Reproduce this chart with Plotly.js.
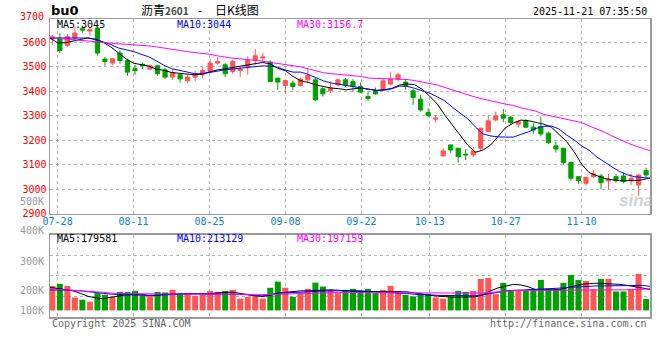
<!DOCTYPE html>
<html><head><meta charset="utf-8">
<script src="https://cdn.plot.ly/plotly-3.0.1.min.js"></script>
<style>html,body{margin:0;padding:0;background:#fff}#chart{width:660px;height:360px}</style>
</head><body><div id="chart"></div>
<script>
// ---- tick labels (trading-day index of each labelled date) ----
const tickLabels = ['07-28','08-11','08-25','09-08','09-22','10-13','10-27','11-10'];
const tickIndex  = [1, 11, 21, 31, 41, 50, 60, 70];

// ---- daily OHLC (07-25 .. 11-21) ----
const open = [3613.4,3616.2,3586.0,3616.2,3654.2,3644.8,3657.1,3530.4,3514.0,3554.9,
3524.7,3490.7,3509.1,3489.5,3503.0,3486.6,3456.8,3466.2,3441.7,3456.8,
3466.2,3479.7,3514.0,3507.1,3479.7,3483.8,3500.1,3524.7,3534.5,3518.1,
3452.7,3422.5,3432.3,3422.5,3445.8,3445.8,3409.0,3402.0,3425.3,3445.8,
3438.8,3418.4,3377.5,3400.8,3407.7,3428.2,3448.6,3436.4,3400.8,3366.9,
3312.1,3285.1,3135.1,3180.0,3166.5,3142.0,3139.2,3166.5,3234.4,3282.2,
3302.7,3293.3,3264.7,3279.4,3252.4,3255.7,3227.9,3176.0,3166.5,3107.7,
3050.4,3023.5,3050.4,3053.3,3032.9,3050.4,3053.3,3036.9,3016.5,3075.0];
const close = [3621.5,3565.5,3621.5,3636.7,3648.9,3650.2,3554.9,3520.6,3531.6,3524.7,
3477.2,3483.8,3503.0,3503.0,3470.3,3456.8,3475.6,3449.8,3456.8,3468.2,
3483.8,3514.0,3520.6,3470.3,3520.6,3489.5,3524.7,3543.9,3538.6,3438.8,
3436.4,3442.5,3418.4,3448.6,3463.3,3364.0,3388.5,3411.8,3445.8,3425.3,
3418.4,3395.5,3369.3,3388.5,3441.7,3448.6,3466.2,3421.2,3373.4,3323.1,
3299.8,3289.2,3155.5,3159.6,3132.2,3139.2,3155.5,3248.3,3278.2,3298.6,
3289.2,3271.2,3275.3,3252.4,3241.4,3225.0,3189.4,3163.7,3107.7,3043.9,
3034.1,3048.0,3061.5,3025.9,3039.8,3034.1,3030.0,3043.9,3057.4,3057.4];
const high = [3629.7,3636.7,3633.8,3660.4,3666.5,3661.2,3658.3,3538.6,3533.6,3565.5,
3531.6,3507.1,3516.5,3507.1,3507.1,3493.6,3489.5,3470.3,3466.2,3482.5,
3498.9,3529.6,3538.6,3514.0,3527.5,3500.1,3541.0,3571.3,3554.9,3524.7,
3453.9,3443.7,3442.9,3455.2,3489.5,3455.2,3418.4,3438.8,3449.8,3452.7,
3448.6,3434.7,3398.0,3414.3,3448.6,3475.6,3475.6,3448.6,3407.7,3384.4,
3330.1,3302.7,3166.5,3181.3,3167.8,3162.5,3170.6,3249.5,3298.6,3316.2,
3327.2,3298.6,3278.2,3285.1,3268.7,3295.7,3234.4,3193.5,3167.8,3111.8,
3052.1,3049.2,3077.8,3061.5,3061.5,3061.5,3066.8,3061.5,3061.5,3087.2];
const low = [3586.8,3554.9,3580.7,3609.3,3637.9,3625.6,3545.1,3503.0,3505.9,3511.2,
3462.1,3466.2,3489.5,3484.6,3462.1,3448.6,3445.8,3434.7,3432.3,3438.8,
3451.9,3473.1,3507.1,3456.8,3470.3,3456.8,3466.2,3507.1,3520.6,3437.6,
3404.9,3388.5,3404.9,3418.4,3436.4,3359.9,3377.5,3391.4,3418.4,3415.9,
3398.0,3391.4,3359.9,3384.4,3404.9,3425.3,3438.8,3404.9,3343.6,3316.2,
3293.3,3271.2,3133.8,3146.1,3107.7,3118.7,3129.8,3156.7,3232.0,3275.3,
3272.8,3261.8,3250.8,3248.3,3225.0,3214.8,3182.9,3148.6,3098.3,3034.1,
3019.4,3013.7,3045.1,2998.9,2998.9,3025.9,3023.5,3016.5,2972.8,3048.0];

// ---- price moving averages as drawn ----
const ma5 = [3616.2,3596.6,3597.0,3604.4,3608.9,3617.1,3610.1,3599.1,3579.9,3556.1,
3531.6,3513.6,3506.3,3501.8,3489.5,3484.6,3475.6,3472.3,3468.2,3466.2,
3469.1,3477.2,3485.8,3490.7,3496.0,3499.3,3504.2,3512.0,3516.5,3511.2,
3492.8,3482.6,3459.7,3441.7,3435.1,3424.9,3417.6,3412.2,3409.8,3404.9,
3409.4,3411.8,3407.3,3403.2,3405.3,3410.6,3424.1,3429.0,3426.1,3406.9,
3378.7,3346.8,3301.0,3259.4,3218.1,3179.2,3149.8,3158.8,3179.2,3216.0,
3250.8,3269.2,3281.4,3279.0,3272.8,3264.7,3252.8,3225.0,3194.4,3152.2,
3101.5,3066.4,3053.3,3043.1,3037.8,3034.1,3034.1,3034.1,3037.8,3045.0];
const ma10 = [3616.2,3616.2,3616.2,3616.2,3616.2,3616.2,3611.3,3601.1,3589.7,3575.8,
3568.4,3561.1,3550.0,3539.8,3523.4,3505.1,3491.5,3484.6,3476.4,3471.1,
3470.3,3474.4,3480.9,3486.6,3489.5,3492.4,3495.2,3500.1,3502.6,3501.4,
3496.5,3485.4,3477.2,3477.2,3467.8,3454.8,3441.3,3433.1,3427.8,3422.4,
3417.2,3412.2,3404.9,3402.0,3403.2,3409.0,3420.0,3419.2,3411.0,3402.0,
3391.4,3376.3,3359.1,3333.3,3310.9,3286.3,3253.6,3225.0,3216.8,3212.7,
3211.9,3211.9,3223.0,3233.2,3247.5,3255.7,3256.9,3245.4,3220.9,3200.5,
3175.9,3157.5,3131.0,3109.7,3090.1,3071.7,3058.2,3050.0,3045.9,3044.0];
const ma30 = [3619.5,3615.0,3612.5,3610.1,3606.8,3603.9,3599.9,3596.6,3594.2,3592.5,
3590.9,3589.2,3587.2,3584.3,3580.3,3574.5,3570.4,3566.0,3561.0,3557.8,
3554.1,3550.0,3543.9,3538.6,3534.1,3531.6,3529.2,3525.9,3521.8,3516.9,
3512.4,3506.3,3502.6,3498.5,3490.7,3482.6,3474.8,3470.7,3468.2,3465.4,
3461.7,3459.3,3452.7,3451.9,3450.7,3449.4,3448.6,3447.0,3442.9,3437.6,
3431.9,3424.5,3414.3,3404.5,3394.2,3382.8,3375.0,3367.3,3359.9,3352.2,
3346.4,3341.1,3331.3,3324.7,3317.4,3304.7,3297.8,3290.8,3283.1,3277.3,
3271.2,3257.7,3245.4,3232.0,3216.8,3201.3,3188.6,3176.3,3165.3,3156.7];

// ---- volume (thousand lots) and its moving averages as drawn ----
const volume = [219,229,219,163,152,142,184,176,165,190,
190,195,171,171,190,187,200,184,184,171,
184,195,190,195,200,157,165,174,157,210,
240,210,166,184,205,235,216,198,184,200,
205,195,205,184,200,219,195,176,168,181,
181,163,157,168,195,190,195,253,258,179,
234,200,200,195,203,248,205,205,234,272,
248,243,203,253,253,192,192,203,277,155];
const vma5 = [212.1,207.2,203.4,195.2,183.1,168.6,161.3,156.5,163.8,171.0,
175.8,178.2,178.2,173.4,173.4,178.2,180.7,180.7,180.7,180.7,
180.7,180.7,185.5,187.9,188.9,183.1,175.8,171.0,167.6,173.4,
184.0,188.9,192.7,195.2,195.2,197.6,198.5,200.0,197.6,195.2,
193.7,191.8,191.8,191.8,191.8,191.8,191.8,190.3,185.5,178.2,
173.4,169.6,166.2,164.7,164.7,164.7,166.2,175.8,195.2,209.6,
219.3,226.5,224.1,214.5,200.0,200.0,200.0,200.0,209.6,219.3,
226.5,230.4,232.3,230.4,229.0,226.5,221.7,214.5,207.2,202.4];
const vma10 = [200.0,200.0,200.0,197.6,195.2,190.3,186.9,183.1,179.2,177.3,
175.8,174.4,172.5,172.5,173.4,175.8,179.2,180.7,180.7,180.7,
180.7,180.7,180.7,180.7,180.7,178.2,175.8,173.4,171.0,175.8,
184.0,185.5,186.5,186.9,190.3,192.7,195.2,195.2,195.2,195.2,
195.2,195.2,190.3,190.3,190.3,186.9,183.1,183.1,178.2,175.8,
174.4,173.4,172.5,172.5,171.0,171.0,171.0,175.8,180.7,187.9,
195.2,196.6,198.5,200.0,201.4,204.8,206.3,208.2,211.1,213.0,
215.9,219.3,219.3,219.3,219.3,219.3,219.3,219.3,221.7,216.9];
const vma30 = [204.8,202.4,200.0,198.5,196.6,195.2,192.7,187.9,184.0,182.1,
180.7,180.7,180.7,180.7,180.7,180.7,180.7,180.7,180.7,180.7,
180.7,180.7,180.7,180.7,180.7,180.7,178.2,175.8,175.8,177.3,
178.2,179.2,180.7,182.1,184.0,185.5,186.9,186.9,186.9,186.9,
186.9,186.9,186.9,186.9,186.9,186.9,186.9,186.9,186.9,186.9,
184.0,184.0,184.0,184.0,184.0,184.0,184.0,184.0,187.9,191.8,
193.7,196.6,196.6,196.6,196.6,196.6,196.6,196.6,196.6,200.0,
200.0,200.0,200.0,200.0,200.0,200.0,200.0,201.4,203.4,204.8];

// ---- header / legend texts ----
const symbol = 'bu0';
const titleName = '沥青', titleCode = '2601', titleKind = '日K线图';
const stamp = '2025-11-21 07:35:50';
const priceLegend = ['MA5:3045', 'MA10:3044', 'MA30:3156.7'];
const volLegend = ['MA5:179581', 'MA10:213129', 'MA30:197159'];
const volLabels = ['500K','400K','300K','200K','100K'];

const RED = '#ff5555', GREEN = '#00a000';
const MA_COLORS = ['#000000', '#0000ff', '#ff00ff'];
const MONO = 'DejaVu Sans Mono, Liberation Mono, monospace';
const VOL_BASE = 100;            // bars start at 100K
const VOL_RANGE = [68, 469];
const PRICE_RANGE = [2900, 3694];

const idx = open.map((_, i) => i);
const barColors = open.map((o, i) => close[i] >= o ? RED : GREEN);

const traces = [
  { type: 'candlestick', x: idx, open, high, low, close, xaxis: 'x', yaxis: 'y',
    increasing: { line: { color: RED, width: 1 }, fillcolor: RED },
    decreasing: { line: { color: GREEN, width: 1 }, fillcolor: GREEN },
    whiskerwidth: 0, hoverinfo: 'skip', showlegend: false },
  ...[ma5, ma10, ma30].map((m, k) => ({ type: 'scatter', mode: 'lines', x: idx, y: m,
    xaxis: 'x3', yaxis: 'y', line: { color: MA_COLORS[k], width: 1 }, hoverinfo: 'skip', showlegend: false })),
  { type: 'bar', x: idx, y: volume.map(v => v - VOL_BASE), base: VOL_BASE, width: 0.8,
    marker: { color: barColors, line: { width: 0 } }, xaxis: 'x2', yaxis: 'y2', hoverinfo: 'skip', showlegend: false },
  ...[vma5, vma10, vma30].map((m, k) => ({ type: 'scatter', mode: 'lines', x: idx, y: m,
    xaxis: 'x4', yaxis: 'y2', line: { color: MA_COLORS[k], width: 1 }, hoverinfo: 'skip', showlegend: false }))
];

const L = 50, R = 10, T = 19, B = 43, W = 660, H = 360;
const PW = W - L - R, PH = H - T - B;
const xp = px => (px - L) / PW;
const yp = py => (H - B - py) / PH;

const frame = { showline: true, mirror: true, linecolor: '#9a9a9a', linewidth: 1.5, zeroline: false };
const grid = { showgrid: true, gridcolor: '#b4b4b4', griddash: 'dot', gridwidth: 1 };
const lineRange = [0, open.length - 1];
const candleRange = [-0.31, 79.52];

const annotations = [];
const ann = (text, x, y, xanchor, font) => annotations.push({ text, x, y, xref: 'paper', yref: 'paper',
  xanchor, yanchor: 'middle', showarrow: false, font });

ann('<b>' + symbol + '</b>', xp(49), yp(10.5), 'left', { family: 'DejaVu Sans', size: 13, color: '#000' });
ann(titleName + '<b><span style="font-size:10px;color:#444">' + titleCode + '</span></b>', xp(139), yp(9.5), 'left',
  { family: 'Noto Sans CJK SC', size: 12, color: '#000' });
ann('-', xp(200), yp(9.5), 'center', { family: 'Noto Sans CJK SC', size: 12, color: '#000' });
ann(titleKind, xp(213), yp(9.5), 'left', { family: 'Noto Sans CJK SC', size: 12, color: '#000' });
ann(stamp, xp(649), yp(11.7), 'right', { family: MONO, size: 10, color: '#000' });
ann('3700', xp(46), yp(16), 'right', { family: MONO, size: 10, color: '#ff0000' });
[55, 175, 295].forEach((px, k) => {
  ann(priceLegend[k], xp(px), yp(24.5), 'left', { family: MONO, size: 10, color: MA_COLORS[k] });
  ann(volLegend[k], xp(px), yp(238.5), 'left', { family: MONO, size: 10, color: MA_COLORS[k] });
});
[201, 230.5, 261, 290, 310.3].forEach((py, k) =>
  ann(volLabels[k], xp(46), yp(py), 'right', { family: MONO, size: 10, color: '#9a9a9a' }));
ann('Copyright 2025 SINA.COM', xp(50), yp(323), 'left', { family: MONO, size: 10, color: '#666' });
ann('http://finance.sina.com.cn', xp(649), yp(323.3), 'right', { family: MONO, size: 10, color: '#666' });
ann('<b><i>sina</i></b>', xp(636), yp(200), 'center', { family: 'Liberation Sans, Arial', size: 17, color: 'rgba(170,170,170,0.55)' });

const volGrid = [1, 2, 3].map(k => VOL_RANGE[0] + k * (VOL_RANGE[1] - VOL_RANGE[0]) / 4);

const layout = {
  width: W, height: H, margin: { l: L, r: R, t: T, b: B },
  paper_bgcolor: '#fff', plot_bgcolor: '#fff', showlegend: false, boxgap: 0.2,
  xaxis: Object.assign({ domain: [0, 1], anchor: 'y', range: candleRange, showgrid: false,
    showticklabels: false, ticks: '', rangeslider: { visible: false }, fixedrange: true }, frame),
  xaxis3: Object.assign({ overlaying: 'x', anchor: 'y', range: lineRange, tickmode: 'array',
    tickvals: tickIndex, ticktext: tickLabels, ticks: '', side: 'bottom', showline: false, zeroline: false,
    tickfont: { family: MONO, size: 10, color: '#1080d0' } }, grid),
  yaxis: Object.assign({ domain: [yp(213.5), 1], anchor: 'x', range: PRICE_RANGE, tick0: 2900, dtick: 100,
    ticks: '', tickfont: { family: MONO, size: 10, color: '#ff0000' } }, frame, grid),
  xaxis2: Object.assign({ domain: [0, 1], anchor: 'y2', range: candleRange, showgrid: false,
    showticklabels: false, ticks: '' }, frame),
  xaxis4: Object.assign({ overlaying: 'x2', anchor: 'y2', range: lineRange, tickmode: 'array',
    tickvals: tickIndex, showticklabels: false, ticks: '', showline: false, zeroline: false }, grid),
  yaxis2: Object.assign({ domain: [0, yp(234.5)], anchor: 'x2', range: VOL_RANGE, tickmode: 'array',
    tickvals: volGrid, showticklabels: false, ticks: '' }, frame, grid),
  annotations
};

Plotly.newPlot('chart', traces, layout, { displayModeBar: false, staticPlot: true });
</script></body></html>
